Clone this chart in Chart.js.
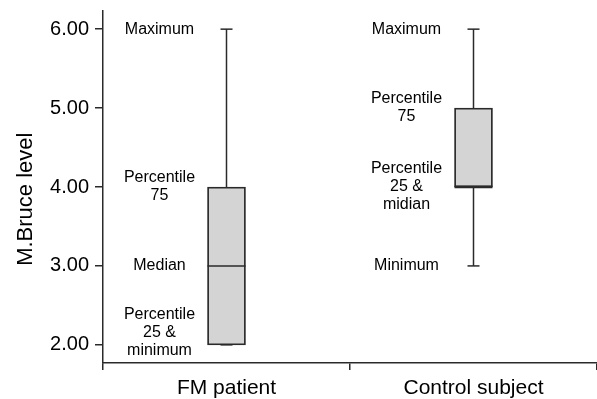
<!DOCTYPE html>
<html>
<head>
<meta charset="utf-8">
<script src="https://cdn.jsdelivr.net/npm/chart.js@4/dist/chart.umd.min.js"></script>
<style>
  html, body { margin: 0; padding: 0; background: #fff; }
  #wrap { width: 597px; height: 399px; }
</style>
</head>
<body>
<div id="wrap"><canvas id="boxChart" width="597" height="399"></canvas></div>
<script>
// box plot values (M.Bruce level)
const categories = ['FM patient', 'Control subject'];
const minimum = [2, 3];
const q1 = [2, 4];
const median = [3, 4];
const q3 = [4, 5];
const maximum = [6, 6];

const yTicks = [2, 3, 4, 5, 6];

// text notes beside each box and the level they sit at
const noteText = [
  [['Maximum'], ['Percentile', '75'], ['Median'], ['Percentile', '25 &', 'minimum']],
  [['Maximum'], ['Percentile', '75'], ['Percentile', '25 &', 'midian'], ['Minimum']]
];
const noteLevel = [
  [6, 4, 3, 2.15],
  [6, 5, 4, 3]
];

const ink = '#2a2a2a';
const font = 'Arial, "Liberation Sans", Helvetica, sans-serif';

// whiskers, median line and the notes
const boxExtras = {
  id: 'boxExtras',
  afterDatasetsDraw(chart) {
    const { ctx, scales: { x, y } } = chart;
    const cap = 6;
    ctx.save();
    ctx.strokeStyle = ink;
    ctx.lineWidth = 1.5;
    categories.forEach((cat, i) => {
      const cx = x.getPixelForValue(i);
      const line = (x1, y1, x2, y2) => {
        ctx.beginPath();
        ctx.moveTo(x1, y1);
        ctx.lineTo(x2, y2);
        ctx.stroke();
      };
      // upper whisker
      line(cx, y.getPixelForValue(q3[i]), cx, y.getPixelForValue(maximum[i]));
      line(cx - cap, y.getPixelForValue(maximum[i]), cx + cap, y.getPixelForValue(maximum[i]));
      // lower whisker
      if (minimum[i] < q1[i]) {
        line(cx, y.getPixelForValue(q1[i]), cx, y.getPixelForValue(minimum[i]));
      }
      line(cx - cap, y.getPixelForValue(minimum[i]), cx + cap, y.getPixelForValue(minimum[i]));
      // median
      const half = 19;
      ctx.lineWidth = median[i] === q1[i] ? 2.5 : 1.5;
      line(cx - half, y.getPixelForValue(median[i]), cx + half, y.getPixelForValue(median[i]));
      ctx.lineWidth = 1.5;

      // notes
      ctx.fillStyle = '#000';
      ctx.font = '16px ' + font;
      ctx.textAlign = 'center';
      ctx.textBaseline = 'middle';
      noteText[i].forEach((lines, j) => {
        const mid = y.getPixelForValue(noteLevel[i][j]);
        const lh = 18;
        const top = mid - (lines.length - 1) * lh / 2;
        lines.forEach((t, k) => ctx.fillText(t, cx - 67, top + k * lh));
      });
    });
    ctx.restore();
  }
};

new Chart(document.getElementById('boxChart'), {
  type: 'bar',
  data: {
    labels: categories,
    datasets: [{
      data: categories.map((c, i) => [q1[i], q3[i]]),
      backgroundColor: '#d4d4d4',
      borderColor: ink,
      borderWidth: 1.8,
      borderSkipped: false,
      barThickness: 38
    }]
  },
  options: {
    responsive: false,
    animation: false,
    layout: { padding: { top: 11, right: 0, left: 0, bottom: 0 } },
    plugins: { legend: { display: false }, tooltip: { enabled: false } },
    scales: {
      x: {
        grid: { offset: true, drawOnChartArea: false, tickLength: 7, color: ink, lineWidth: 1.5 },
        border: { color: ink, width: 1.5 },
        ticks: { color: '#000', font: { family: font, size: 21 }, padding: 6 },
        afterFit: s => { s.height = 36; s.paddingLeft = 0; s.paddingRight = 0; }
      },
      y: {
        min: 1.77,
        max: 6.23,
        afterBuildTicks: s => { s.ticks = yTicks.map(v => ({ value: v })); },
        grid: { drawOnChartArea: false, tickLength: 8, color: ink, lineWidth: 1.5 },
        border: { color: ink, width: 1.5 },
        ticks: { color: '#000', font: { family: font, size: 20 }, padding: 6, callback: v => v.toFixed(2) },
        // trailing spaces push the title a little below the axis centre, as in the original
        title: { display: true, text: 'M.Bruce level    ', color: '#000', font: { family: font, size: 22 }, padding: { top: 13, bottom: 0 } },
        afterFit: s => { s.width = 103; s.paddingTop = 0; s.paddingBottom = 0; }
      }
    }
  },
  plugins: [boxExtras]
});
</script>
</body>
</html>
